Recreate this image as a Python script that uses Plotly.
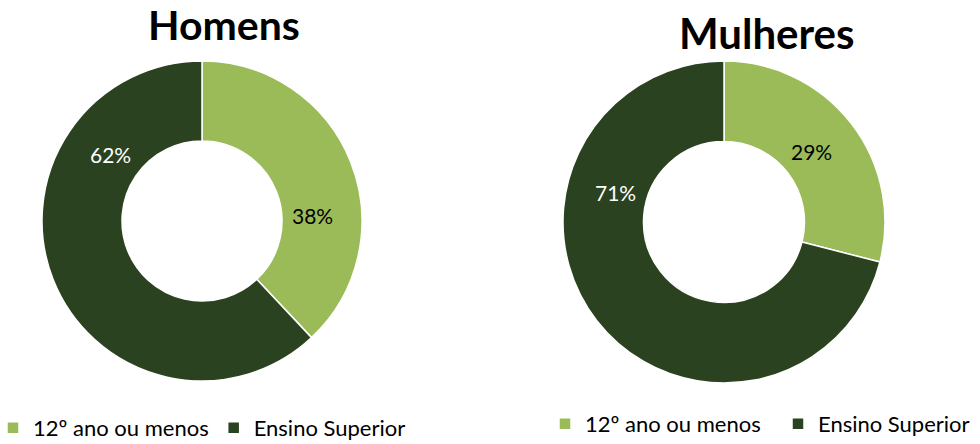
import math
import plotly.graph_objects as go

categories = ["12º ano ou menos", "Ensino Superior"]
homens = [38, 62]
mulheres = [29, 71]
titles = ["Homens", "Mulheres"]
colors = ["#9BBB59", "#2A4220"]

W, H = 980, 444

# pie placement (pixels): center x, center y, radius
pies = [(202, 221, 160), (724, 222, 161)]
# label placement: angle clockwise from 12 o'clock (deg), distance from center / radius
label_pos = [[(87, 0.69), (306, 0.71)], [(51, 0.70), (285, 0.70)]]
text_colors = ["black", "white"]


def dom(cx, cy, r):
    return dict(x=[(cx - r) / W, (cx + r) / W], y=[1 - (cy + r) / H, 1 - (cy - r) / H])


fig = go.Figure()
datasets = [homens, mulheres]
legends = ["legend", "legend2"]
annotations = []
for i, vals in enumerate(datasets):
    cx, cy, r = pies[i]
    labs = [c + ("\u200b" * i) for c in categories]
    fig.add_trace(go.Pie(
        labels=labs, values=vals, hole=0.5, sort=False, direction="clockwise",
        rotation=0, marker=dict(colors=colors, line=dict(color="white", width=1.5)),
        textinfo="none", domain=dom(cx, cy, r), legend=legends[i],
        hovertemplate="%{label}: %{value}%<extra></extra>",
    ))
    for j, v in enumerate(vals):
        ang, fr = label_pos[i][j]
        a = math.radians(ang)
        px = cx + fr * r * math.sin(a)
        py = cy - fr * r * math.cos(a)
        annotations.append(dict(
            text=f"{v}%", x=px / W, y=1 - py / H, xref="paper", yref="paper",
            showarrow=False, xanchor="center", yanchor="middle",
            font=dict(size=21, family="Lato", color=text_colors[j]),
        ))

annotations += [
    dict(text="<b>" + titles[0] + "</b>", x=224 / W, y=1 - 25 / H, xref="paper", yref="paper",
         showarrow=False, font=dict(size=41, family="Lato"), xanchor="center", yanchor="middle"),
    dict(text="<b>" + titles[1] + "</b>", x=766 / W, y=1 - 33 / H, xref="paper", yref="paper",
         showarrow=False, font=dict(size=42, family="Lato"), xanchor="center", yanchor="middle"),
]

fig.update_layout(
    width=W, height=H, margin=dict(l=0, r=0, t=0, b=0, autoexpand=False),
    paper_bgcolor="white", plot_bgcolor="white",
    font=dict(family="Lato", color="black"),
    legend=dict(orientation="h", x=-7 / W, xanchor="left", y=1 - 428 / H, yanchor="middle",
                font=dict(size=22, family="Lato"), itemwidth=30, traceorder="normal"),
    legend2=dict(orientation="h", x=545 / W, xanchor="left", y=1 - 424 / H, yanchor="middle",
                 font=dict(size=22, family="Lato"), itemwidth=30, traceorder="normal",
                 entrywidth=188),
    annotations=annotations,
)

fig.write_html("out.html", config={"displayModeBar": False},
               post_script="document.body.style.margin='0';document.body.style.overflow='hidden';")
